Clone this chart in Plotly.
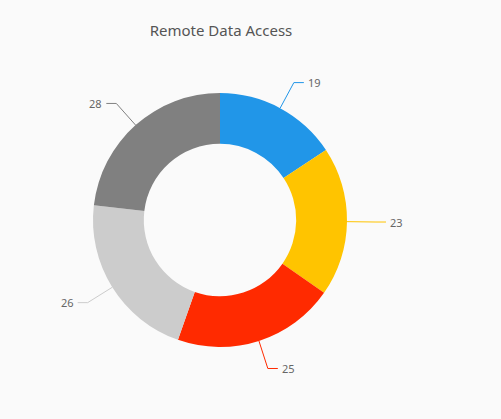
import math
import plotly.graph_objects as go

title = "Remote Data Access"
values = [19, 23, 25, 26, 28]
labels = ["A", "B", "C", "D", "E"]
colors = ["#2196E8", "#FFC400", "#FF2A00", "#CCCCCC", "#808080"]

W, H = 501, 419
cx, cy, R = 220, 220, 127
hole = 0.6
R_lead = 156
H_lead = 10

fig = go.Figure()
fig.add_trace(go.Pie(
    values=values, labels=labels, sort=False, direction="clockwise", rotation=0,
    hole=hole, marker=dict(colors=colors, line=dict(width=0)),
    textinfo="none", hoverinfo="skip", showlegend=False,
    domain=dict(x=[(cx - R) / W, (cx + R) / W], y=[(H - cy - R) / H, (H - cy + R) / H]),
))

def px2paper(x, y):
    return x / W, 1 - y / H

total = sum(values)
cum = 0
shapes = []
annotations = []
for v, c in zip(values, colors):
    mid = (cum + v / 2) / total * 2 * math.pi
    cum += v
    s, co = math.sin(mid), math.cos(mid)
    x0, y0 = cx + R * s, cy - R * co
    x1, y1 = cx + R_lead * s, cy - R_lead * co
    sign = 1 if s >= 0 else -1
    x2, y2 = x1 + sign * H_lead, y1
    p0 = px2paper(x0, y0); p1 = px2paper(x1, y1); p2 = px2paper(x2, y2)
    shapes.append(dict(type="path", xref="paper", yref="paper",
                       path=f"M {p0[0]} {p0[1]} L {p1[0]} {p1[1]} L {p2[0]} {p2[1]}",
                       line=dict(color=c, width=1)))
    pt = px2paper(x2 + sign * 2, y2)
    annotations.append(dict(x=pt[0], y=pt[1], xref="paper", yref="paper",
                            text=str(v), showarrow=False,
                            xanchor="left" if sign > 0 else "right", yanchor="middle",
                            font=dict(size=11, color="#666666", family="Noto Sans")))

fig.update_layout(
    width=W, height=H, margin=dict(l=0, r=0, t=0, b=0),
    paper_bgcolor="#FAFAFA", plot_bgcolor="#FAFAFA",
    title=dict(text=title, x=221 / W, xanchor="center", y=1 - 31 / H, yanchor="middle",
               font=dict(size=15, color="#555555", family="Noto Sans")),
    shapes=shapes, annotations=annotations,
)
fig.write_html("out.html")
